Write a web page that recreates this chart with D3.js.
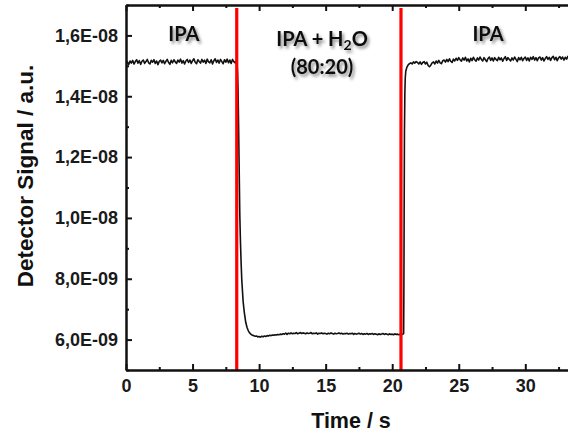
<!DOCTYPE html>
<html>
<head>
<meta charset="utf-8">
<script src="https://cdn.jsdelivr.net/npm/d3@7"></script>
<style>
  html, body { margin: 0; padding: 0; background: #fff; overflow: hidden; }
  svg { display: block; }
  .tick text { font-family: "Liberation Sans", Arial, sans-serif; font-weight: bold; fill: #1a1a1a; }
</style>
</head>
<body>
<svg id="chart" width="568" height="434"></svg>
<script>
// ---- DATA (signal in units of 1e-9 a.u.) ----
// IPA, sampled every 0.1 s from 0.0 s to 8.3 s
const ipaBefore = [
  15.07,15.13,15.04,15.16,15.09,15.18,15.06,15.14,15.20,15.09,
  15.17,15.05,15.15,15.19,15.08,15.14,15.21,15.10,15.06,15.18,
  15.12,15.20,15.08,15.16,15.04,15.15,15.19,15.10,15.18,15.07,
  15.15,15.21,15.11,15.05,15.18,15.10,15.20,15.13,15.08,15.19,
  15.12,15.22,15.09,15.17,15.06,15.16,15.21,15.11,15.19,15.08,
  15.17,15.23,15.12,15.07,15.20,15.14,15.09,15.21,15.12,15.19,
  15.08,15.22,15.13,15.10,15.20,15.06,15.17,15.23,15.11,15.19,
  15.09,15.21,15.14,15.07,15.20,15.12,15.22,15.10,15.19,15.08,
  15.21,15.14,15.10,15.17
];
const ipaBeforeStart = 0.0;
// switch IPA -> IPA+H2O
const dropTime = [8.34, 8.38, 8.42, 8.46, 8.50, 8.55, 8.60, 8.65, 8.70, 8.80, 8.90, 9.00, 9.10, 9.20, 9.30, 9.40, 9.50];
const dropSignal = [15.10, 14.80, 14.20, 13.00, 11.70, 10.10, 9.20, 8.50, 7.95, 7.25, 6.85, 6.56, 6.39, 6.28, 6.21, 6.17, 6.14];
// IPA + H2O (80:20), sampled every 0.1 s from 9.6 s to 20.8 s
const mixture = [
  6.13,6.11,6.12,6.09,6.10,6.08,6.11,6.09,6.12,6.10,
  6.13,6.12,6.14,6.13,6.15,6.14,6.16,6.15,6.17,6.16,
  6.18,6.17,6.19,6.18,6.21,6.17,6.21,6.19,6.22,6.19,
  6.21,6.20,6.23,6.19,6.21,6.23,6.20,6.22,6.21,6.19,
  6.22,6.20,6.21,6.23,6.19,6.21,6.20,6.22,6.18,6.21,
  6.20,6.22,6.19,6.21,6.20,6.18,6.21,6.19,6.22,6.20,
  6.18,6.21,6.19,6.20,6.22,6.19,6.21,6.18,6.20,6.19,
  6.21,6.18,6.20,6.19,6.21,6.17,6.20,6.18,6.19,6.21,
  6.18,6.20,6.17,6.19,6.18,6.20,6.17,6.19,6.18,6.20,
  6.17,6.19,6.18,6.16,6.19,6.17,6.18,6.20,6.17,6.19,
  6.18,6.16,6.19,6.17,6.18,6.16,6.19,6.17,6.18,6.16,
  6.18,6.17,6.18
];
const mixtureStart = 9.6;
// switch back IPA+H2O -> IPA
const riseTime = [20.86, 20.88, 20.90, 20.92, 20.95, 20.98, 21.02, 21.10, 21.20, 21.30, 21.40, 21.50, 21.60, 21.70, 21.80];
const riseSignal = [6.20, 7.80, 10.50, 12.80, 14.10, 14.60, 14.82, 14.95, 15.03, 15.07, 15.10, 15.06, 15.13, 15.09, 15.14];
// IPA, sampled every 0.1 s from 21.9 s to 35.0 s
const ipaAfter = [
  15.11,15.06,15.13,15.05,15.11,15.14,15.06,15.12,15.01,14.97,
  15.02,15.10,15.13,15.06,15.16,15.09,15.18,15.10,15.07,15.17,
  15.19,15.12,15.21,15.14,15.23,15.15,15.11,15.22,15.16,15.25,
  15.18,15.27,15.20,15.15,15.26,15.19,15.28,15.16,15.23,15.13,
  15.25,15.17,15.28,15.20,15.15,15.26,15.19,15.29,15.21,15.16,
  15.27,15.20,15.14,15.24,15.29,15.18,15.26,15.16,15.27,15.21,
  15.17,15.28,15.20,15.26,15.15,15.24,15.30,15.18,15.27,15.21,
  15.16,15.26,15.19,15.29,15.21,15.14,15.27,15.20,15.28,15.17,
  15.24,15.29,15.18,15.26,15.16,15.28,15.21,15.30,15.19,15.27,
  15.17,15.26,15.29,15.19,15.27,15.16,15.24,15.30,15.21,15.28,
  15.18,15.27,15.31,15.20,15.28,15.17,15.26,15.30,15.22,15.29,
  15.19,15.28,15.22,15.31,15.20,15.27,15.18,15.29,15.23,15.30,
  15.20,15.28,15.22,15.29,15.19,15.27,15.23,15.30,15.21,15.28,
  15.23,15.29
];
const ipaAfterStart = 21.9;
const sampleStep = 0.1;
const signalUnit = 1e-9;

// switching moments (red lines), s
const switchTimes = [8.32, 20.66];

// axes
const xTickValues = [0, 5, 10, 15, 20, 25, 30, 35];
const xTickLabels = ["0", "5", "10", "15", "20", "25", "30", ""];
const xMinorTicks = [2.5, 7.5, 12.5, 17.5, 22.5, 27.5, 32.5];
const yTickValues = [6e-9, 8e-9, 1.0e-8, 1.2e-8, 1.4e-8, 1.6e-8];
const yTickLabels = ["6,0E-09", "8,0E-09", "1,0E-08", "1,2E-08", "1,4E-08", "1,6E-08"];
const yMinorTicks = [5e-9, 7e-9, 9e-9, 1.1e-8, 1.3e-8, 1.5e-8, 1.7e-8];

// annotations: each line is a list of [text, isSubscript] parts
const labels = [
  { t: 4.35, lines: [[["IPA", false]]] },
  { t: 14.73, lines: [[["IPA + H", false], ["2", true], ["O", false]], [["(80:20)", false]]] },
  { t: 27.2, lines: [[["IPA", false]]] }
];

// ---- build series ----
const points = [];
ipaBefore.forEach((v, i) => points.push([ipaBeforeStart + i * sampleStep, v * signalUnit]));
dropTime.forEach((t, i) => points.push([t, dropSignal[i] * signalUnit]));
mixture.forEach((v, i) => points.push([mixtureStart + i * sampleStep, v * signalUnit]));
riseTime.forEach((t, i) => points.push([t, riseSignal[i] * signalUnit]));
ipaAfter.forEach((v, i) => points.push([ipaAfterStart + i * sampleStep, v * signalUnit]));

// ---- layout ----
const svg = d3.select("#chart");
const pLeft = 126, pTop = 5, pBottom = 370;
const x = d3.scaleLinear().domain([0, 35]).range([pLeft, pLeft + 35 * 13.31]);
const y = d3.scaleLinear().domain([5e-9, 1.7e-8]).range([pBottom, pTop]);
const pRight = x.range()[1];

const defs = svg.append("defs");
defs.append("clipPath").attr("id", "plotclip")
  .append("rect").attr("x", pLeft).attr("y", pTop).attr("width", pRight - pLeft).attr("height", pBottom - pTop);
const f = defs.append("filter").attr("id", "shadow").attr("x", "-20%").attr("y", "-30%").attr("width", "150%").attr("height", "170%");
f.append("feDropShadow").attr("dx", 2).attr("dy", 2.5).attr("stdDeviation", 1.6)
  .attr("flood-color", "#000").attr("flood-opacity", 0.45);

// signal line
svg.append("path")
  .datum(points)
  .attr("clip-path", "url(#plotclip)")
  .attr("fill", "none")
  .attr("stroke", "#111")
  .attr("stroke-width", 1.6)
  .attr("stroke-linejoin", "round")
  .attr("d", d3.line().x(d => x(d[0])).y(d => y(d[1])));

// red switching lines
svg.selectAll("line.switch").data(switchTimes).join("line")
  .attr("class", "switch")
  .attr("x1", d => x(d)).attr("x2", d => x(d))
  .attr("y1", 8).attr("y2", pBottom)
  .attr("stroke", "#ff0000").attr("stroke-width", 3.2);

// axes
const axisColor = "#111";
const xAxis = d3.axisBottom(x).tickValues(xTickValues).tickFormat((d, i) => xTickLabels[i])
  .tickSizeInner(-6).tickSizeOuter(0).tickPadding(10);
const gx = svg.append("g").attr("transform", `translate(0,${pBottom})`).call(xAxis);
gx.selectAll(".tick text").attr("font-size", 18).attr("dy", "0.71em").attr("y", 9.5);

const gxMinor = svg.append("g").attr("transform", `translate(0,${pBottom})`)
  .call(d3.axisBottom(x).tickValues(xMinorTicks).tickSizeInner(-3).tickSizeOuter(0).tickFormat(""));

const gxTop = svg.append("g").attr("transform", `translate(0,${pTop})`)
  .call(d3.axisTop(x).tickValues(xTickValues).tickSizeInner(-6).tickSizeOuter(0).tickFormat(""));
const gxTopMinor = svg.append("g").attr("transform", `translate(0,${pTop})`)
  .call(d3.axisTop(x).tickValues(xMinorTicks).tickSizeInner(-3).tickSizeOuter(0).tickFormat(""));

const yAxis = d3.axisLeft(y).tickValues(yTickValues)
  .tickFormat((d, i) => yTickLabels[i]).tickSizeInner(-6).tickSizeOuter(0).tickPadding(8);
const gy = svg.append("g").attr("transform", `translate(${pLeft},0)`).call(yAxis);
gy.selectAll(".tick text").attr("font-size", 18).attr("x", -8);

const gyMinor = svg.append("g").attr("transform", `translate(${pLeft},0)`)
  .call(d3.axisLeft(y).tickValues(yMinorTicks).tickSizeInner(-3).tickSizeOuter(0).tickFormat(""));

[gx, gxMinor, gxTop, gxTopMinor, gy, gyMinor].forEach(g => {
  g.select(".domain").attr("stroke", axisColor).attr("stroke-width", 2);
  g.selectAll(".tick line").attr("stroke", axisColor).attr("stroke-width", 2);
});

// axis titles
svg.append("text")
  .attr("x", 351).attr("y", 428)
  .attr("text-anchor", "middle")
  .attr("font-family", "Liberation Sans, Arial, sans-serif")
  .attr("font-weight", "bold").attr("font-size", 21.5).attr("fill", "#111")
  .text("Time / s");
svg.append("text")
  .attr("transform", "translate(33,176) rotate(-90)")
  .attr("text-anchor", "middle")
  .attr("font-family", "Liberation Sans, Arial, sans-serif")
  .attr("font-weight", "bold").attr("font-size", 22.5).attr("fill", "#111")
  .text("Detector Signal / a.u.");

// annotations
labels.forEach(l => {
  l.lines.forEach((parts, i) => {
    const t = svg.append("text")
      .attr("x", x(l.t))
      .attr("y", (l.lines.length > 1 ? 45.5 : 40.5) + i * 28)
      .attr("text-anchor", "middle")
      .attr("font-family", "Lato, 'Open Sans', sans-serif")
      .attr("font-weight", "bold").attr("font-size", 20).attr("fill", "#111")
      .attr("filter", "url(#shadow)");
    parts.forEach(([txt, sub]) => {
      const s = t.append("tspan").text(txt);
      if (sub) s.attr("font-size", 14).attr("baseline-shift", "-30%");
    });
  });
});
</script>
</body>
</html>
